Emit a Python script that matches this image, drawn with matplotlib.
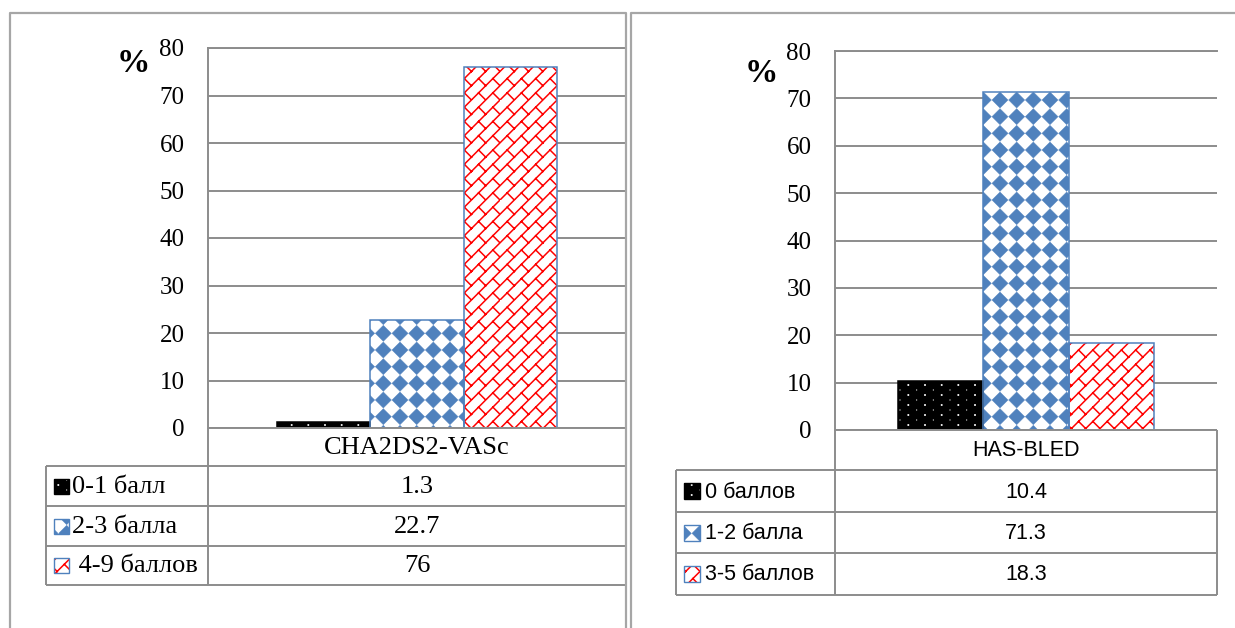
import numpy as np
import matplotlib
matplotlib.use("Agg")
import matplotlib.pyplot as plt
import matplotlib.hatch as mhatch
from matplotlib.path import Path
from matplotlib.patches import Rectangle

# ---- data -------------------------------------------------------------
left_title = "CHA2DS2-VASc"
left_groups = ["0-1 балл", "2-3 балла", " 4-9 баллов"]
left_values = [1.3, 22.7, 76]

right_title = "HAS-BLED"
right_groups = ["0 баллов", "1-2 балла", "3-5 баллов"]
right_values = [10.4, 71.3, 18.3]

y_ticks = [0, 10, 20, 30, 40, 50, 60, 70, 80]
y_unit = "%"

# ---- fill textures (hatch tiles, one hatch unit = 1 inch) --------------
M, L, C = Path.MOVETO, Path.LINETO, Path.CLOSEPOLY


class _Tile(mhatch.HatchPatternBase):
    symbol = ""

    def __init__(self, hatch, density):
        if self.symbol in hatch:
            self._v, self._c = self.build()
        else:
            self._v = np.empty((0, 2))
            self._c = np.empty(0, dtype=Path.code_type)
        self.num_vertices = len(self._v)

    def set_vertices_and_codes(self, vertices, codes):
        vertices[:] = self._v
        codes[:] = self._c


def _polys(centers, shape):
    verts, codes = [], []
    for cx, cy in centers:
        for k, (dx, dy) in enumerate(shape):
            verts.append((cx + dx, cy + dy))
            codes.append(M if k == 0 else L)
        verts.append((cx + shape[0][0], cy + shape[0][1]))
        codes.append(C)
    return np.array(verts, float), np.array(codes, dtype=Path.code_type)


class DotTile(_Tile):
    """small white squares on a dark ground"""
    symbol = "."

    def build(self):
        nx, ny = 6, 10
        big = 0.005
        small = 0.0015
        c1 = [((i + 0.5) / nx, (j + 0.5) / ny) for i in range(nx) for j in range(ny)]
        c2 = [(i / nx, j / ny) for i in range(nx + 1) for j in range(ny + 1)]
        sq = lambda h: [(-h, -h), (h, -h), (h, h), (-h, h)]
        v1, k1 = _polys(c1, sq(big))
        v2, k2 = _polys(c2, sq(small))
        return np.vstack([v1, v2]), np.concatenate([k1, k2])


class DiamondTile(_Tile):
    """solid diamonds on a square grid"""
    symbol = "*"

    def build(self):
        n = 6
        h = 0.48 / n
        cs = [(i / n, j / n) for i in range(n + 1) for j in range(n + 1)]
        return _polys(cs, [(0, h), (h, 0), (0, -h), (-h, 0)])


class BrickTile(_Tile):
    """diagonal brick lines"""
    symbol = "x"

    def build(self):
        n = 7
        s = 1.0 / n
        verts, codes = [], []
        for i in range(n):
            for j in range(n):
                x0, y0 = i * s, j * s
                verts += [(x0, y0), (x0 + s, y0 + s)]
                codes += [M, L]
                verts += [(x0 + s / 2, y0 + s / 2), (x0 + s, y0)]
                codes += [M, L]
        return np.array(verts, float), np.array(codes, dtype=Path.code_type)


mhatch._hatch_types = [DotTile, DiamondTile, BrickTile]
plt.rcParams["hatch.linewidth"] = 1.0

BLUE = "#4F81BD"
GRID = "#8C8C8C"
FRAME = "#A6A6A6"
SERIF = ["Liberation Serif", "DejaVu Serif"]
SANS = ["Liberation Sans", "DejaVu Sans"]

series_style = [
    dict(face="black", hatch=".", ink="white", edge="black", hlw=0.5),
    dict(face="white", hatch="*", ink=BLUE, edge=BLUE, hlw=0.3),
    dict(face="white", hatch="x", ink="red", edge=BLUE, hlw=1.1),
]

# ---- figure -------------------------------------------------------------
W, H = 1235, 628
fig = plt.figure(figsize=(W / 100, H / 100), dpi=100)
fig.patch.set_facecolor("white")


def fbox(x0, y0, x1, y1):
    return [x0 / W, 1 - y1 / H, (x1 - x0) / W, (y1 - y0) / H]


ov = fig.add_axes([0, 0, 1, 1], zorder=5)
ov.set_xlim(0, W)
ov.set_ylim(H, 0)
ov.axis("off")
ov.patch.set_alpha(0)


def hline(y, x0, x1, color=GRID, lw=1.4):
    ov.plot([x0, x1], [y, y], color=color, lw=lw, solid_capstyle="butt")


def vline(x, y0, y1, color=GRID, lw=1.4):
    ov.plot([x, x], [y0, y1], color=color, lw=lw, solid_capstyle="butt")


def set_hlw(patch, w):
    if hasattr(patch, "set_hatch_linewidth"):
        patch.set_hatch_linewidth(w)


def draw_panel(box, values, title, groups, rows, legend_x, swatch_x, text_x,
               pct_xy, tfont, tsize, swatch):
    x0, y0, x1, y1 = box
    ax = fig.add_axes(fbox(*box), zorder=2)
    ax.patch.set_alpha(0)
    width = 0.223
    pos = (np.arange(len(values)) - 1) * width
    for p, v, st in zip(pos, values, series_style):
        plt.rcParams["hatch.linewidth"] = st["hlw"]
        b = ax.bar(p, v, width, color=st["face"], edgecolor=st["ink"],
                   linewidth=0, hatch=st["hatch"], zorder=2)
        for r in b:
            set_hlw(r, st["hlw"])
        ax.bar(p, v, width, fill=False, edgecolor=st["edge"], linewidth=1.1,
               zorder=3)
    ax.set_xlim(-0.5, 0.5)
    ax.set_ylim(0, 80)
    ax.set_xticks([])
    ax.set_yticks(y_ticks)
    ax.set_yticklabels([str(t) for t in y_ticks], fontfamily=SERIF, fontsize=18)
    ax.tick_params(axis="y", length=0, pad=17)
    ax.yaxis.grid(True, color=GRID, lw=1.4)
    ax.set_axisbelow(True)
    for side in ("right", "bottom"):
        ax.spines[side].set_visible(False)
    for side in ("left", "top"):
        ax.spines[side].set_color(GRID)
        ax.spines[side].set_linewidth(1.4)

    ov.text(pct_xy[0], pct_xy[1], y_unit, fontfamily=SERIF, fontsize=24,
            fontweight="bold", ha="center", va="center")

    # data table under the plot
    xc = (x0 + x1) / 2
    hline(rows[0], x0, x1)
    for y in rows[1:]:
        hline(y, legend_x, x1)
    vline(legend_x, rows[1], rows[-1])
    vline(x0, rows[0], rows[-1])
    vline(x1, rows[0], rows[-1])
    ov.text(xc, (rows[0] + rows[1]) / 2 + 1, title, fontfamily=tfont,
            fontsize=tsize, ha="center", va="center")
    for k, (g, v, st) in enumerate(zip(groups, values, series_style)):
        yc = (rows[k + 1] + rows[k + 2]) / 2 + 1
        ov.text(xc, yc, f"{v:g}", fontfamily=tfont, fontsize=tsize,
                ha="center", va="center")
        plt.rcParams["hatch.linewidth"] = st["hlw"]
        sw = Rectangle((swatch_x, yc - swatch / 2 - 1), swatch, swatch,
                       facecolor=st["face"], edgecolor=st["ink"], linewidth=0,
                       hatch=st["hatch"])
        set_hlw(sw, st["hlw"])
        ov.add_patch(sw)
        ov.add_patch(Rectangle((swatch_x, yc - swatch / 2 - 1), swatch, swatch,
                               fill=False, edgecolor=st["edge"], linewidth=1.0))
        ov.text(text_x, yc, g, fontfamily=tfont, fontsize=tsize,
                ha="left", va="center")
    return ax


# left panel: CHA2DS2-VASc
draw_panel((208, 48, 626, 428), left_values, left_title, left_groups,
           [428, 466, 506, 546, 585], 46, 54, 72, (133, 63), SERIF, 19, 15)
# right panel: HAS-BLED
draw_panel((835, 51, 1217, 430), right_values, right_title, right_groups,
           [430, 470, 512, 553, 595], 676, 684, 705, (761, 74), SANS, 15.5, 16)

# outer frames of the two panels
ov.plot([10, 10, 626, 626], [H + 5, 13, 13, H + 5], color=FRAME, lw=1.6)
ov.plot([631, 631, W + 5], [H + 5, 13, 13], color=FRAME, lw=1.6)

fig.savefig("out.png", dpi=100, facecolor="white")
